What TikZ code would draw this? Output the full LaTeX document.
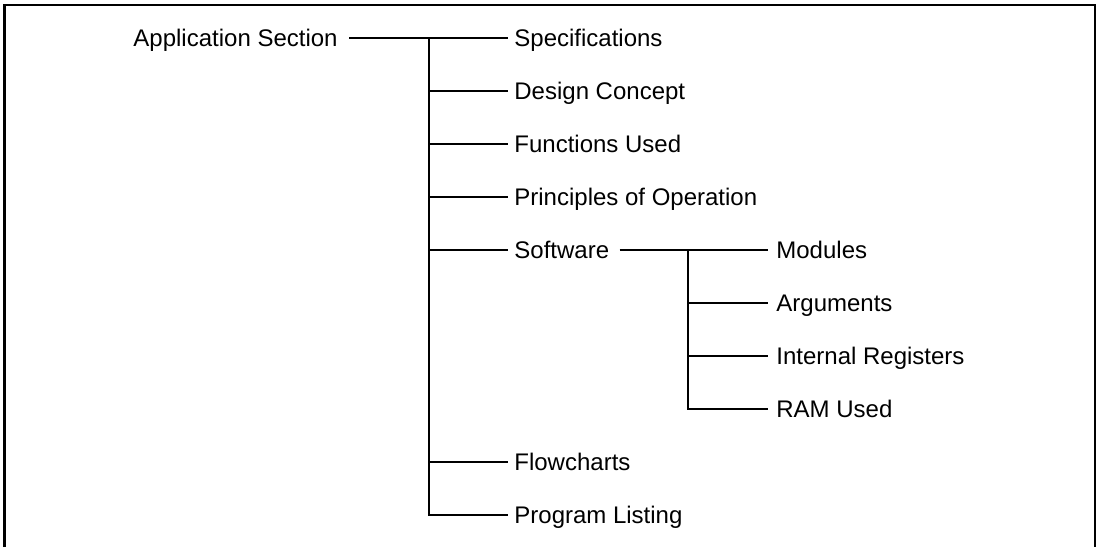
\documentclass[tikz,border=0pt]{standalone}
\usepackage{fontspec}
\setmainfont{Liberation Sans}
\begin{document}
\begin{tikzpicture}[x=0.5pt,y=-0.5pt,
  conn/.style={line width=1.15pt},
  frame/.style={line width=1.35pt},
  lbl/.style={font=\fontsize{12}{14}\selectfont, inner ysep=0pt,
              text height=8.6pt, text depth=0pt, inner xsep=3pt},
  rootlbl/.style={lbl, inner xsep=5.5pt},
  sublbl/.style={lbl, inner xsep=4pt}]
\useasboundingbox (0,0) rectangle (1102,547);

% open frame around the tree
\draw[frame] (4.7,547) -- (4.7,5) -- (1095,5) -- (1095,547);

% root
\node[rootlbl, anchor=east] (root) at (349,38) {Application Section};

% first level
\node[lbl, anchor=west] (spec) at (508,38)  {Specifications};
\node[lbl, anchor=west] (dc)   at (508,91)  {Design Concept};
\node[lbl, anchor=west] (fu)   at (508,144) {Functions Used};
\node[lbl, anchor=west] (po)   at (508,197) {Principles of Operation};
\node[lbl, anchor=west] (sw)   at (508,250) {Software};
\node[lbl, anchor=west] (fc)   at (508,462) {Flowcharts};
\node[lbl, anchor=west] (pl)   at (508,515) {Program Listing};

% second level under Software
\node[sublbl, anchor=west] (mod) at (768,250) {Modules};
\node[sublbl, anchor=west] (arg) at (768,303) {Arguments};
\node[sublbl, anchor=west] (ir)  at (768,356) {Internal Registers};
\node[sublbl, anchor=west] (ram) at (768,409) {RAM Used};

% trunk junctions
\coordinate (t1) at (429,38);
\coordinate (t2) at (688,250);

% first-level connectors
\draw[conn] (root.east) -- (spec.west);
\draw[conn] (t1) |- (pl.west);
\foreach \n in {dc,fu,po,sw,fc}
  \draw[conn] (t1 |- \n.west) -- (\n.west);

% second-level connectors
\draw[conn] ([xshift=2pt]sw.east) -- (mod.west);
\draw[conn] (t2) |- (ram.west);
\foreach \n in {arg,ir}
  \draw[conn] (t2 |- \n.west) -- (\n.west);
\end{tikzpicture}
\end{document}
